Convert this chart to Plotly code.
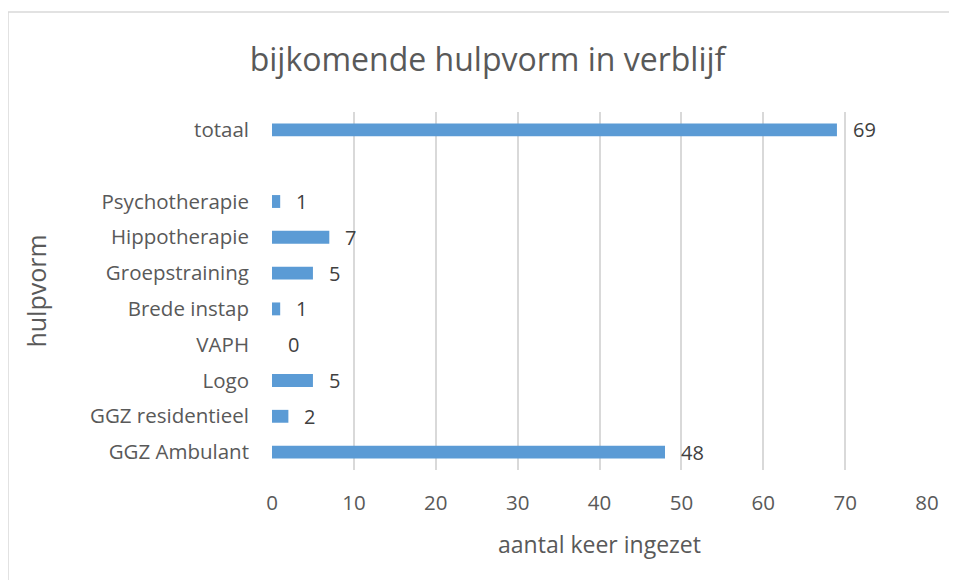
import plotly.graph_objects as go

categories = ["GGZ Ambulant", "GGZ residentieel", "Logo", "VAPH", "Brede instap",
              "Groepstraining", "Hippotherapie", "Psychotherapie", " ", "totaal"]
values = [48, 2, 5, 0, 1, 5, 7, 1, None, 69]
x_ticks = [0, 10, 20, 30, 40, 50, 60, 70, 80]

FONT = "Open Sans"
GREY = "#595959"

# page body has an 8px margin; plot area should be at page x 272..927, y 112..470
L, T = 272 - 8, 112 - 8
R = 957 - (927 - 8)
B = 580 - (470 - 8)
PW = 957 - L - R
PH = 580 - T - B

fig = go.Figure()
fig.add_trace(go.Bar(
    y=categories, x=values, orientation="h",
    marker=dict(color="#5b9bd5", line=dict(width=0)),
    width=0.36, hoverinfo="x+y",
))

for c, v in zip(categories, values):
    if v is None:
        continue
    fig.add_annotation(x=v, y=c, text=str(v), showarrow=False,
                       xanchor="left", xshift=14,
                       font=dict(family=FONT, size=20, color="#404040"))

# chart border
fig.add_shape(type="rect", xref="paper", yref="paper",
              x0=(0 - L) / PW, x1=1.5, y0=-0.6, y1=1 + (T - 4) / PH,
              line=dict(color="#d9d9d9", width=1.5), layer="below")

fig.update_layout(
    width=957, height=580,
    margin=dict(l=L, r=R, t=T, b=B),
    paper_bgcolor="white", plot_bgcolor="white",
    showlegend=False,
    title=dict(text="bijkomende hulpvorm in verblijf", x=479.5 / 957,
               xanchor="center", y=1 - 52 / 580, yanchor="middle",
               font=dict(family=FONT, size=32, color=GREY)),
    font=dict(family=FONT, color=GREY),
    xaxis=dict(range=[0, 80], tickvals=x_ticks, showgrid=True,
               gridcolor="#d9d9d9", gridwidth=1.5, zeroline=False,
               showline=False, ticks="", ticklabelstandoff=18,
               tickfont=dict(family=FONT, size=20.5, color=GREY),
               title=dict(text="aantal keer ingezet", standoff=22,
                          font=dict(family=FONT, size=23, color=GREY))),
    yaxis=dict(categoryorder="array", categoryarray=categories,
               range=[-0.5, len(categories) - 0.5],
               showgrid=False, zeroline=False, showline=False, ticks="",
               ticklabelstandoff=22,
               tickfont=dict(family=FONT, size=20.5, color=GREY),
               title=dict(text="hulpvorm", standoff=36,
                          font=dict(family=FONT, size=25, color=GREY))),
    bargap=0.64,
)

fig.write_html("out.html")
